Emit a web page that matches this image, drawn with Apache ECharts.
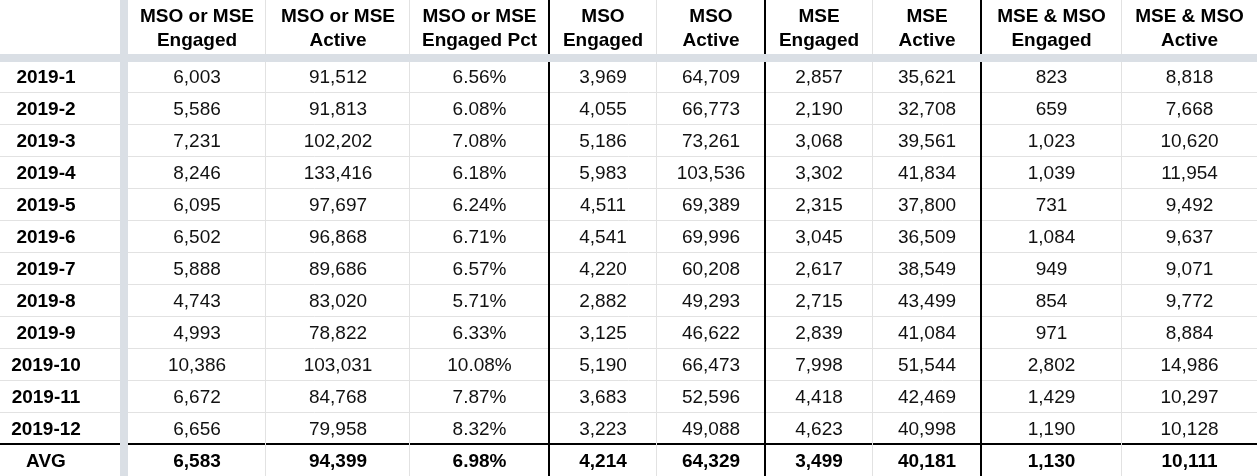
<!DOCTYPE html>
<html><head><meta charset="utf-8">
<script src="https://cdn.jsdelivr.net/npm/echarts@6/dist/echarts.min.js"></script>
<style>html,body{margin:0;padding:0;background:#fff}#c{width:1257px;height:476px}</style>
</head><body><div id="c"></div><script>
// ---- data ----
const months = ['2019-1','2019-2','2019-3','2019-4','2019-5','2019-6','2019-7','2019-8','2019-9','2019-10','2019-11','2019-12'];
const headers = ['MSO or MSE\nEngaged','MSO or MSE\nActive','MSO or MSE\nEngaged Pct','MSO\nEngaged','MSO\nActive','MSE\nEngaged','MSE\nActive','MSE & MSO\nEngaged','MSE & MSO\nActive'];
const msoOrMseEngaged = [6003,5586,7231,8246,6095,6502,5888,4743,4993,10386,6672,6656];
const msoOrMseActive = [91512,91813,102202,133416,97697,96868,89686,83020,78822,103031,84768,79958];
const msoOrMseEngagedPct = [6.56,6.08,7.08,6.18,6.24,6.71,6.57,5.71,6.33,10.08,7.87,8.32];
const msoEngaged = [3969,4055,5186,5983,4511,4541,4220,2882,3125,5190,3683,3223];
const msoActive = [64709,66773,73261,103536,69389,69996,60208,49293,46622,66473,52596,49088];
const mseEngaged = [2857,2190,3068,3302,2315,3045,2617,2715,2839,7998,4418,4623];
const mseActive = [35621,32708,39561,41834,37800,36509,38549,43499,41084,51544,42469,40998];
const mseMsoEngaged = [823,659,1023,1039,731,1084,949,854,971,2802,1429,1190];
const mseMsoActive = [8818,7668,10620,11954,9492,9637,9071,9772,8884,14986,10297,10128];
const avgLabel = 'AVG';
const avgRow = [6583,94399,6.98,4214,64329,3499,40181,1130,10111];

// ---- layout / style ----
const columns = [msoOrMseEngaged,msoOrMseActive,msoOrMseEngagedPct,msoEngaged,msoActive,mseEngaged,mseActive,mseMsoEngaged,mseMsoActive];
const pctCols = [2];
const colWidths = [138,144,139,108,108,108,108,141,135];
const thickBoundaries = [3,5,7]; // boundary index (edge k) drawn black
const colEdges = [0]; colWidths.forEach(w => colEdges.push(colEdges[colEdges.length-1] + w));
const rowLabels = months.concat([avgLabel]);
const FONT = "'Liberation Sans', Arial, sans-serif";
const GRID_LEFT = 128, GRID_TOP = 60, FREEZE = 8, HEADER_H = 54;
const LIGHT = '#e2e2e2', FROZEN = '#dadfe5';
const TEXT_DY = 2;

function fmt(v, c) {
  return pctCols.includes(c) ? v.toFixed(2) + '%' : v.toLocaleString('en-US');
}

const cellData = [];
for (let c = 0; c < columns.length; c++) {
  for (let r = 0; r < rowLabels.length; r++) {
    const v = r < months.length ? columns[c][r] : avgRow[c];
    cellData.push([(colEdges[c] + colEdges[c+1]) / 2, r, c, v]);
  }
}
const rowData = rowLabels.map((l, r) => [0, r]);
const edgeData = colEdges.slice(1, -1).map((e, i) => [e, 0, i + 1]);
const headerData = headers.map((h, c) => [(colEdges[c] + colEdges[c+1]) / 2, 0, c]);

const chart = echarts.init(document.getElementById('c'), null, {renderer: 'canvas'});
chart.setOption({
  animation: false,
  backgroundColor: '#fff',
  grid: {left: GRID_LEFT, right: 0, top: GRID_TOP, bottom: 0, containLabel: false},
  xAxis: {type: 'value', min: 0, max: colEdges[colEdges.length-1], show: false},
  yAxis: {type: 'category', data: rowLabels, inverse: true,
    axisLine: {show: false}, axisTick: {show: false}, splitLine: {show: false},
    axisLabel: {show: false}},
  series: [
    { // horizontal row rules + row labels
      type: 'custom', clip: false, z: 1, silent: true, data: rowData,
      renderItem(params, api) {
        const r = api.value(1);
        const p = api.coord([0, r]);
        const h = api.size([0, 1])[1];
        const y = p[1] + h / 2;
        const W = api.getWidth();
        const isBeforeAvg = r === months.length - 1;
        const children = [];
        if (r < rowLabels.length - 1) {
          if (isBeforeAvg) {
            children.push({type: 'line', z2: 5, shape: {x1: 0, y1: y, x2: W, y2: y}, style: {stroke: '#000', lineWidth: 2}});
          } else {
            children.push({type: 'line', shape: {x1: 0, y1: Math.round(y) + 0.5, x2: W, y2: Math.round(y) + 0.5}, style: {stroke: LIGHT, lineWidth: 1}});
          }
        }
        children.push({type: 'text', z2: 10, style: {text: rowLabels[r], x: (GRID_LEFT - FREEZE) / 2 - 14, y: p[1] + TEXT_DY,
          align: 'center', verticalAlign: 'middle', font: 'bold 19px ' + FONT, fill: '#000'}});
        return {type: 'group', children};
      }
    },
    { // vertical column rules
      type: 'custom', clip: false, z: 2, silent: true, data: edgeData,
      renderItem(params, api) {
        const k = api.value(2);
        const x = api.coord([api.value(0), 0])[0];
        const H = api.getHeight();
        const thick = thickBoundaries.includes(k);
        return thick
          ? {type: 'line', z2: 6, shape: {x1: x, y1: 0, x2: x, y2: H}, style: {stroke: '#000', lineWidth: 2}}
          : {type: 'line', shape: {x1: Math.round(x) - 0.5, y1: 0, x2: Math.round(x) - 0.5, y2: H}, style: {stroke: LIGHT, lineWidth: 1}};
      }
    },
    { // header texts
      type: 'custom', clip: false, z: 4, silent: true, data: headerData,
      renderItem(params, api) {
        const c = api.value(2);
        const p = api.coord([api.value(0), 0]);
        const h = api.size([0, 1])[1];
        const top = p[1] - h / 2;
        return {type: 'text', style: {text: headers[c], x: p[0], y: top - 31.5,
          align: 'center', verticalAlign: 'middle', font: 'bold 19px ' + FONT, lineHeight: 24, fill: '#000'}};
      }
    },
    { // cell values
      type: 'custom', clip: false, z: 4, silent: true, data: cellData,
      encode: {x: 0, y: 1},
      renderItem(params, api) {
        const c = api.value(2), r = api.value(1), v = api.value(3);
        const p = api.coord([api.value(0), r]);
        const isAvg = r === rowLabels.length - 1;
        return {type: 'text', style: {text: fmt(v, c), x: p[0], y: p[1] + TEXT_DY,
          align: 'center', verticalAlign: 'middle',
          font: (isAvg ? 'bold ' : '') + '19px ' + FONT, fill: isAvg ? '#000' : '#111'}};
      }
    }
  ],
  graphic: [
    {type: 'rect', z: 100, shape: {x: GRID_LEFT - FREEZE, y: 0, width: FREEZE, height: 476}, style: {fill: FROZEN}},
    {type: 'rect', z: 100, shape: {x: 0, y: HEADER_H, width: 1257, height: FREEZE}, style: {fill: FROZEN}}
  ]
});
</script></body></html>
